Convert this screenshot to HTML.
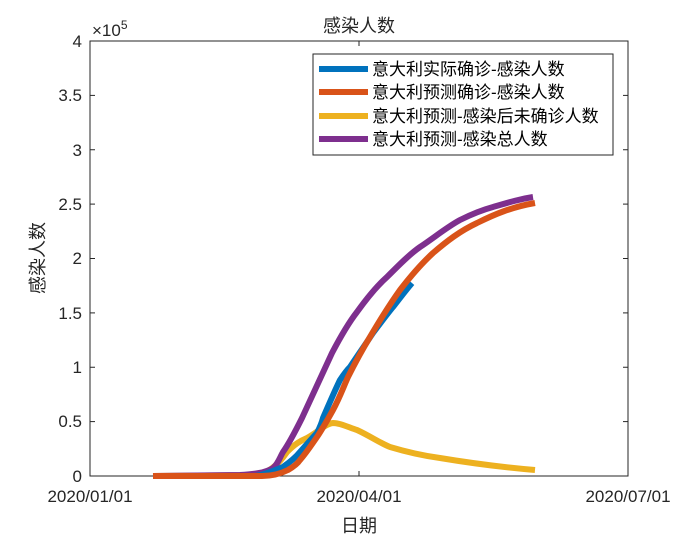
<!DOCTYPE html>
<html><head><meta charset="utf-8"><style>body{margin:0;background:#fff}</style></head><body>
<svg width="693" height="540" xmlns="http://www.w3.org/2000/svg" font-family="Liberation Sans, Noto Sans CJK SC, sans-serif">
<rect width="693" height="540" fill="#fff"/>
<rect x="90" y="41" width="538" height="435" fill="#fff" stroke="#262626" stroke-width="1"/>
<g stroke="#262626" stroke-width="1">
<line x1="359" y1="476" x2="359" y2="471"/><line x1="359" y1="41" x2="359" y2="46"/>
<line x1="90" y1="421.6" x2="95" y2="421.6"/><line x1="90" y1="367.25" x2="95" y2="367.25"/><line x1="90" y1="312.9" x2="95" y2="312.9"/><line x1="90" y1="258.5" x2="95" y2="258.5"/><line x1="90" y1="204.1" x2="95" y2="204.1"/><line x1="90" y1="149.75" x2="95" y2="149.75"/><line x1="90" y1="95.4" x2="95" y2="95.4"/>
<line x1="628" y1="421.6" x2="623" y2="421.6"/><line x1="628" y1="367.25" x2="623" y2="367.25"/><line x1="628" y1="312.9" x2="623" y2="312.9"/><line x1="628" y1="258.5" x2="623" y2="258.5"/><line x1="628" y1="204.1" x2="623" y2="204.1"/><line x1="628" y1="149.75" x2="623" y2="149.75"/><line x1="628" y1="95.4" x2="623" y2="95.4"/>
</g>
<g font-size="17" fill="#262626" text-anchor="end">
<text x="82" y="482">0</text><text x="82" y="427">0.5</text><text x="82" y="373">1</text><text x="82" y="319">1.5</text><text x="82" y="264">2</text><text x="82" y="210">2.5</text><text x="82" y="156">3</text><text x="82" y="101">3.5</text><text x="82" y="47">4</text>
</g>
<text x="92" y="36" font-size="17" fill="#262626">×10<tspan font-size="12" dy="-7">5</tspan></text>
<g font-size="17" fill="#262626" text-anchor="middle">
<text x="90" y="502">2020/01/01</text><text x="359" y="502">2020/04/01</text><text x="628" y="502">2020/07/01</text>
<text x="359" y="532" font-size="18">日期</text>
<text x="359" y="32" font-size="18">感染人数</text>
<text transform="translate(44,258) rotate(-90)" font-size="18">感染人数</text>
</g>
<g fill="none" stroke-width="6" stroke-linejoin="round" stroke-linecap="butt">
<path stroke="#EDB120" d="M153,476 L255,475 C268,474 278,465 287,452 C295,444 300,441 307,438 C318,432 325,424 333,423 C340,423 348,427 357,430 C370,436 380,443 390,447 C410,453 425,456 440,458 C470,463 500,467 535,470"/>
<path stroke="#7E2F8E" d="M153,476 L240,475 C255,474 265,473 273,468 C278,464 280,457 283,452 C288,445 297,428 302,418 C308,405 318,383 332,353 C343,332 350,321 357,312 C370,294 378,285 387,277 C400,264 410,254 420,247 C435,237 447,227 460,220 C472,214 482,210 493,207 C510,202 520,199 533,197"/>
<path stroke="#0072BD" d="M153,476 L255,476 C265,475 275,470 283,467 C290,462 296,457 300,452 C308,443 313,437 317,433 C320,427 322,422 323,418 C330,402 335,390 340,380 C344,374 347,370 350,367 C360,352 367,342 373,333 C382,321 388,313 393,307 C400,298 406,290 412,283"/>
<path stroke="#D95319" d="M153,476 L262,476 C272,476 280,474 288,470 C295,466 298,463 300,460 C307,452 312,444 317,437 C323,428 328,419 333,410 C340,397 343,388 348,377 C355,363 362,350 370,337 C380,320 390,304 400,290 C410,277 421,264 433,253 C447,241 460,231 477,223 C495,214 512,207 535,203"/>
</g>
<rect x="313" y="54" width="300" height="101" fill="#fff" stroke="#262626" stroke-width="1"/>
<g stroke-width="6">
<line x1="319" y1="69" x2="368" y2="69" stroke="#0072BD"/>
<line x1="319" y1="92" x2="368" y2="92" stroke="#D95319"/>
<line x1="319" y1="116" x2="368" y2="116" stroke="#EDB120"/>
<line x1="319" y1="139" x2="368" y2="139" stroke="#7E2F8E"/>
</g>
<g font-size="17" fill="#000">
<text x="372" y="75">意大利实际确诊-感染人数</text>
<text x="372" y="98">意大利预测确诊-感染人数</text>
<text x="372" y="122">意大利预测-感染后未确诊人数</text>
<text x="372" y="145">意大利预测-感染总人数</text>
</g>
</svg>
</body></html>
